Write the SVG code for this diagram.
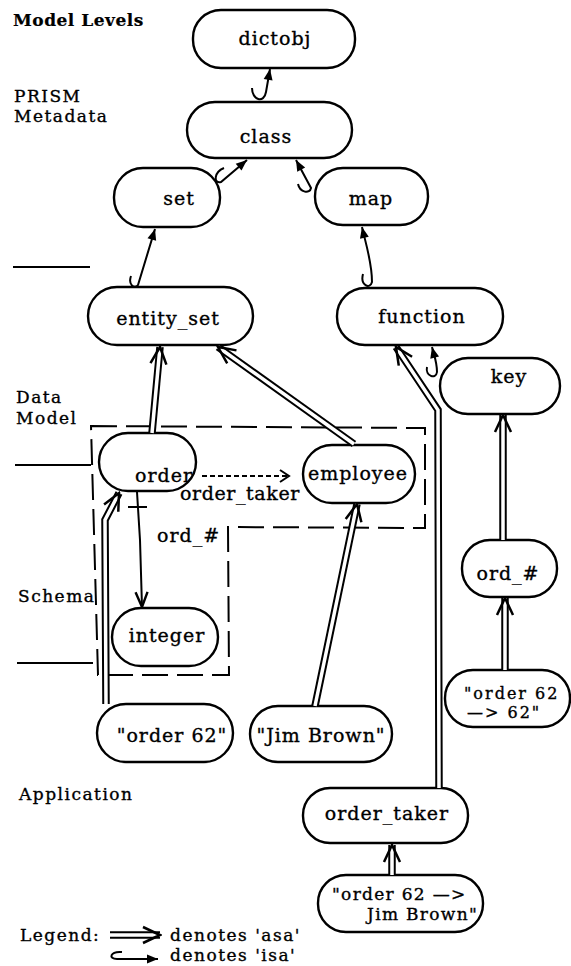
<svg xmlns="http://www.w3.org/2000/svg" width="571" height="966" viewBox="0 0 571 966">
<defs>
<style>
.node rect{fill:#fff;stroke:#000;stroke-width:2.4}
text{font-family:"DejaVu Serif","Liberation Serif",serif;font-size:19px;letter-spacing:1px;fill:#000;stroke:#000;stroke-width:0.35}
.lab{font-size:17px;letter-spacing:1.5px}
.two{font-size:17px;letter-spacing:1.3px}
.two16{font-size:16px;letter-spacing:2px}
.c{text-anchor:middle}
.bold{font-weight:bold;font-size:17px;letter-spacing:0.5px;stroke-width:0.2}
.asa-o{fill:none;stroke:#000;stroke-width:7.5}
.asa-i{fill:none;stroke:#fff;stroke-width:3.5}
.asa-h{fill:none;stroke:none;marker-end:url(#chev)}
.isa{fill:none;stroke:#000;stroke-width:2;marker-end:url(#tri)}
.lvl{stroke:#000;stroke-width:2;fill:none}
.dbox{fill:none;stroke:#000;stroke-width:2;stroke-dasharray:26 9}
</style>
<marker id="chev" viewBox="-20 -10 22 20" markerWidth="22" markerHeight="20" refX="0" refY="0" orient="auto" markerUnits="userSpaceOnUse">
<path d="M -17 -8 L 0 0 L -17 8" fill="none" stroke="#000" stroke-width="2.5"/>
</marker>
<marker id="tri" viewBox="-12 -6 14 12" markerWidth="14" markerHeight="12" refX="0" refY="0" orient="auto" markerUnits="userSpaceOnUse">
<path d="M -11 -4.5 L 0 0 L -11 4.5 Z" fill="#000"/>
</marker>
<marker id="vee" viewBox="-16 -8 18 16" markerWidth="18" markerHeight="16" refX="0" refY="0" orient="auto" markerUnits="userSpaceOnUse">
<path d="M -15 -6 L 0 0 L -15 6" fill="none" stroke="#000" stroke-width="2.4"/>
</marker>
<marker id="gt" viewBox="-10 -8 12 16" markerWidth="12" markerHeight="16" refX="0" refY="0" orient="auto" markerUnits="userSpaceOnUse">
<path d="M -9 -6 L 0 0 L -9 6" fill="none" stroke="#000" stroke-width="2"/>
</marker>
</defs>
<rect width="571" height="966" fill="#fff"/>

<g id="labels">
<text x="13" y="26" class="bold">Model Levels</text>
<text x="14" y="102" class="lab">PRISM</text>
<text x="14" y="122" class="lab">Metadata</text>
<text x="16" y="403" class="lab">Data</text>
<text x="16" y="424" class="lab">Model</text>
<text x="18" y="602" class="lab">Schema</text>
<text x="19" y="800" class="lab">Application</text>
<text x="20" y="941" class="lab">Legend:</text>
<text x="170" y="941" class="lab">denotes 'asa'</text>
<text x="170" y="961" class="lab">denotes 'isa'</text>
<path class="lvl" d="M13 267 L90 267 M15 465 L91 465 M17 663 L93 663"/>
<path class="dbox" d="M91 426 L425 428 L425 528 L228 527 L229 675 L98 675 Z"/>
</g>

<g id="n-dictobj" class="node"><rect x="193" y="10" width="162" height="58" rx="28"/><text x="275" y="45" class="c">dictobj</text></g>
<g id="n-class" class="node"><rect x="187" y="102" width="165" height="56" rx="28"/><text x="266" y="143" class="c">class</text></g>
<g id="n-set" class="node"><rect x="114" y="168" width="106" height="59" rx="29"/><text x="179" y="205" class="c">set</text></g>
<g id="n-map" class="node"><rect x="315" y="168" width="113" height="57" rx="28"/><text x="371" y="205" class="c">map</text></g>
<g id="n-entity_set" class="node"><rect x="88" y="287" width="165" height="58" rx="29"/><text x="168" y="325" class="c">entity_set</text></g>
<g id="n-function" class="node"><rect x="337" y="288" width="166" height="57" rx="28"/><text x="422" y="323" class="c">function</text></g>
<g id="n-key" class="node"><rect x="440" y="358" width="120" height="56" rx="28"/><text x="509" y="383" class="c">key</text></g>
<g id="n-order" class="node"><rect x="99" y="433" width="97" height="58" rx="29"/><text x="135" y="482">order</text></g>
<g id="n-employee" class="node"><rect x="303" y="445" width="112" height="58" rx="29"/><text x="358" y="480" class="c">employee</text></g>
<g id="n-integer" class="node"><rect x="112" y="608" width="106" height="58" rx="29"/><text x="167" y="642" class="c">integer</text></g>
<g id="n-order62" class="node"><rect x="97" y="704" width="136" height="58" rx="29"/><text x="172" y="742" class="c">"order 62"</text></g>
<g id="n-jimbrown" class="node"><rect x="250" y="706" width="142" height="56" rx="28"/><text x="321" y="742" class="c">"Jim Brown"</text></g>
<g id="n-ord" class="node"><rect x="462" y="540" width="95" height="57" rx="28"/><text x="508" y="580" class="c">ord_#</text></g>
<g id="n-order62-62" class="node"><rect x="445" y="670" width="125" height="57" rx="28"/><text x="464" y="699" class="two16">"order 62</text><text x="467" y="718" class="two16">—&gt; 62"</text></g>
<g id="n-order_taker" class="node"><rect x="303" y="788" width="165" height="55" rx="27"/><text x="387" y="820" class="c">order_taker</text></g>
<g id="n-order62-jim" class="node"><rect x="318" y="875" width="165" height="57" rx="28"/><text x="332" y="900" class="two">"order 62 —&gt;</text><text x="478" y="920" class="two" style="text-anchor:end">Jim Brown"</text></g>

<g id="connectors">
<!-- isa -->
<path class="isa" d="M252 88 C252 100 264 104 266 92 L270 69"/>
<path class="isa" d="M224 168 C214 172 213 184 221 182 L247 160"/>
<path class="isa" d="M298 184 C300 193 310 194 311 188 L296 160"/>
<path class="isa" d="M131 276 C128 284 134 290 138 285 L155 229"/>
<path class="isa" d="M363 274 C360 285 370 290 372 282 C372 262 366 245 362 227"/>
<path class="isa" d="M427 367 C425 376 436 380 437 372 C437 362 434 355 432 347"/>
<!-- asa -->
<path class="asa-o" d="M152 433 L160 347"/><path class="asa-i" d="M152 433 L160 347"/><path class="asa-h" d="M152 433 L160 347"/>
<path class="asa-o" d="M354 444 L218 347"/><path class="asa-i" d="M354 444 L218 347"/><path class="asa-h" d="M354 444 L218 347"/>
<path class="asa-o" d="M106 704 L105 520 L119 493"/><path class="asa-i" d="M106 704 L105 520 L119 493"/><path class="asa-h" d="M106 704 L105 520 L119 493"/>
<path class="asa-o" d="M315 706 L357 504"/><path class="asa-i" d="M315 706 L357 504"/><path class="asa-h" d="M315 706 L357 504"/>
<path class="asa-o" d="M439 788 L438 410 L396 347"/><path class="asa-i" d="M439 788 L438 410 L396 347"/><path class="asa-h" d="M439 788 L438 410 L396 347"/>
<path class="asa-o" d="M392 875 L392 845"/><path class="asa-i" d="M392 875 L392 845"/><path class="asa-h" d="M392 875 L392 845"/>
<path class="asa-o" d="M503 540 L503 415"/><path class="asa-i" d="M503 540 L503 415"/><path class="asa-h" d="M503 540 L503 415"/>
<path class="asa-o" d="M505 670 L505 598"/><path class="asa-i" d="M505 670 L505 598"/><path class="asa-h" d="M505 670 L505 598"/>
<!-- order -> integer (ord_#) -->
<path d="M137 492 L140 540 L142 607" fill="none" stroke="#000" stroke-width="2" marker-end="url(#vee)"/>
<path d="M128 507 L147 507" stroke="#000" stroke-width="2"/>
<text x="157" y="542">ord_#</text>
<!-- order -> employee (order_taker) -->
<path d="M202 476 L289 476" fill="none" stroke="#000" stroke-width="1.8" stroke-dasharray="5 3" marker-end="url(#gt)"/>
<text x="180" y="500" style="letter-spacing:0.6px">order_taker</text>
<!-- legend -->
<path class="asa-o" d="M110 935 L160 935"/><path class="asa-i" d="M110 935 L160 935"/><path class="asa-h" d="M110 935 L160 935"/>
<path class="isa" d="M122 952 C110 951 108 959 117 959 L158 959"/>
</g>
</svg>
